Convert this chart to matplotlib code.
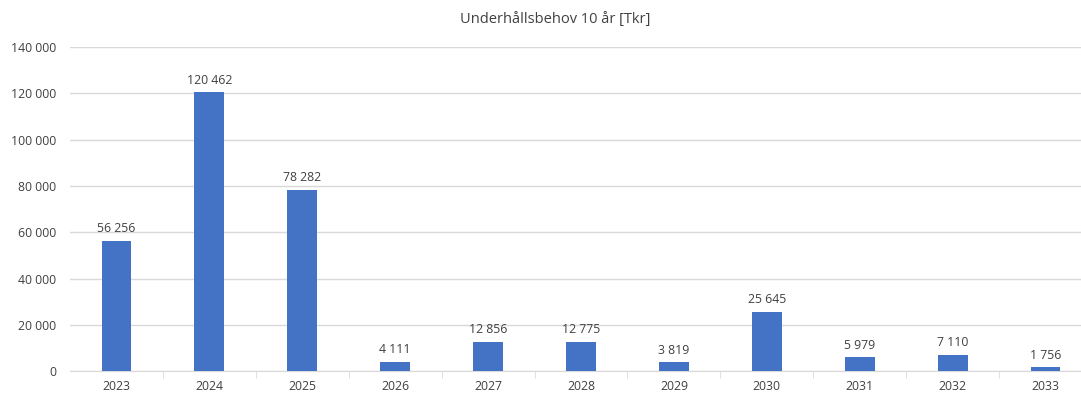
import matplotlib.pyplot as plt
import numpy as np

# Data
years = ["2023", "2024", "2025", "2026", "2027", "2028", "2029", "2030", "2031", "2032", "2033"]
values = [56256, 120462, 78282, 4111, 12856, 12775, 3819, 25645, 5979, 7110, 1756]
y_ticks = [0, 20000, 40000, 60000, 80000, 100000, 120000, 140000]


def fmt(v):
    return f"{v:,}".replace(",", " ")


plt.rcParams["font.family"] = ["Open Sans", "DejaVu Sans"]
text_col = "#404040"
grid_col = "#d9d9d9"

fig = plt.figure(figsize=(10.81, 4.07), dpi=100)
ax = fig.add_axes([70 / 1081, 35.7 / 407, 1022 / 1081, 324.3 / 407])

x = np.arange(len(years))
ax.bar(x, values, width=0.32, color="#4472c4", zorder=3)

for xi, v in zip(x, values):
    ax.annotate(fmt(v), (xi, v), xytext=(0, 4), textcoords="offset points",
                ha="center", va="bottom", fontsize=8.8, color=text_col)

ax.set_xlim(-0.5, len(years) - 0.5)
ax.set_ylim(0, 140000)
ax.set_yticks(y_ticks)
ax.set_yticklabels([fmt(t) for t in y_ticks])
ax.set_xticks(x)
ax.set_xticklabels(years)
ax.set_xticks(np.arange(len(years) - 1) + 0.5, minor=True)

ax.grid(axis="y", color=grid_col, linewidth=1, zorder=0)
for s in ["top", "right", "left"]:
    ax.spines[s].set_visible(False)
ax.spines["bottom"].set_color(grid_col)
ax.tick_params(axis="y", length=0, labelsize=8.8, labelcolor=text_col, pad=10)
ax.tick_params(axis="x", which="major", length=0, labelsize=8.8, labelcolor=text_col, pad=6)
ax.tick_params(axis="x", which="minor", length=5, color=grid_col)

fig.text(555 / 1081, 1 - 20 / 407, "Underhållsbehov 10 år [Tkr]", ha="center", va="center",
         fontsize=10.5, color=text_col)

fig.savefig("out.png", dpi=100)
